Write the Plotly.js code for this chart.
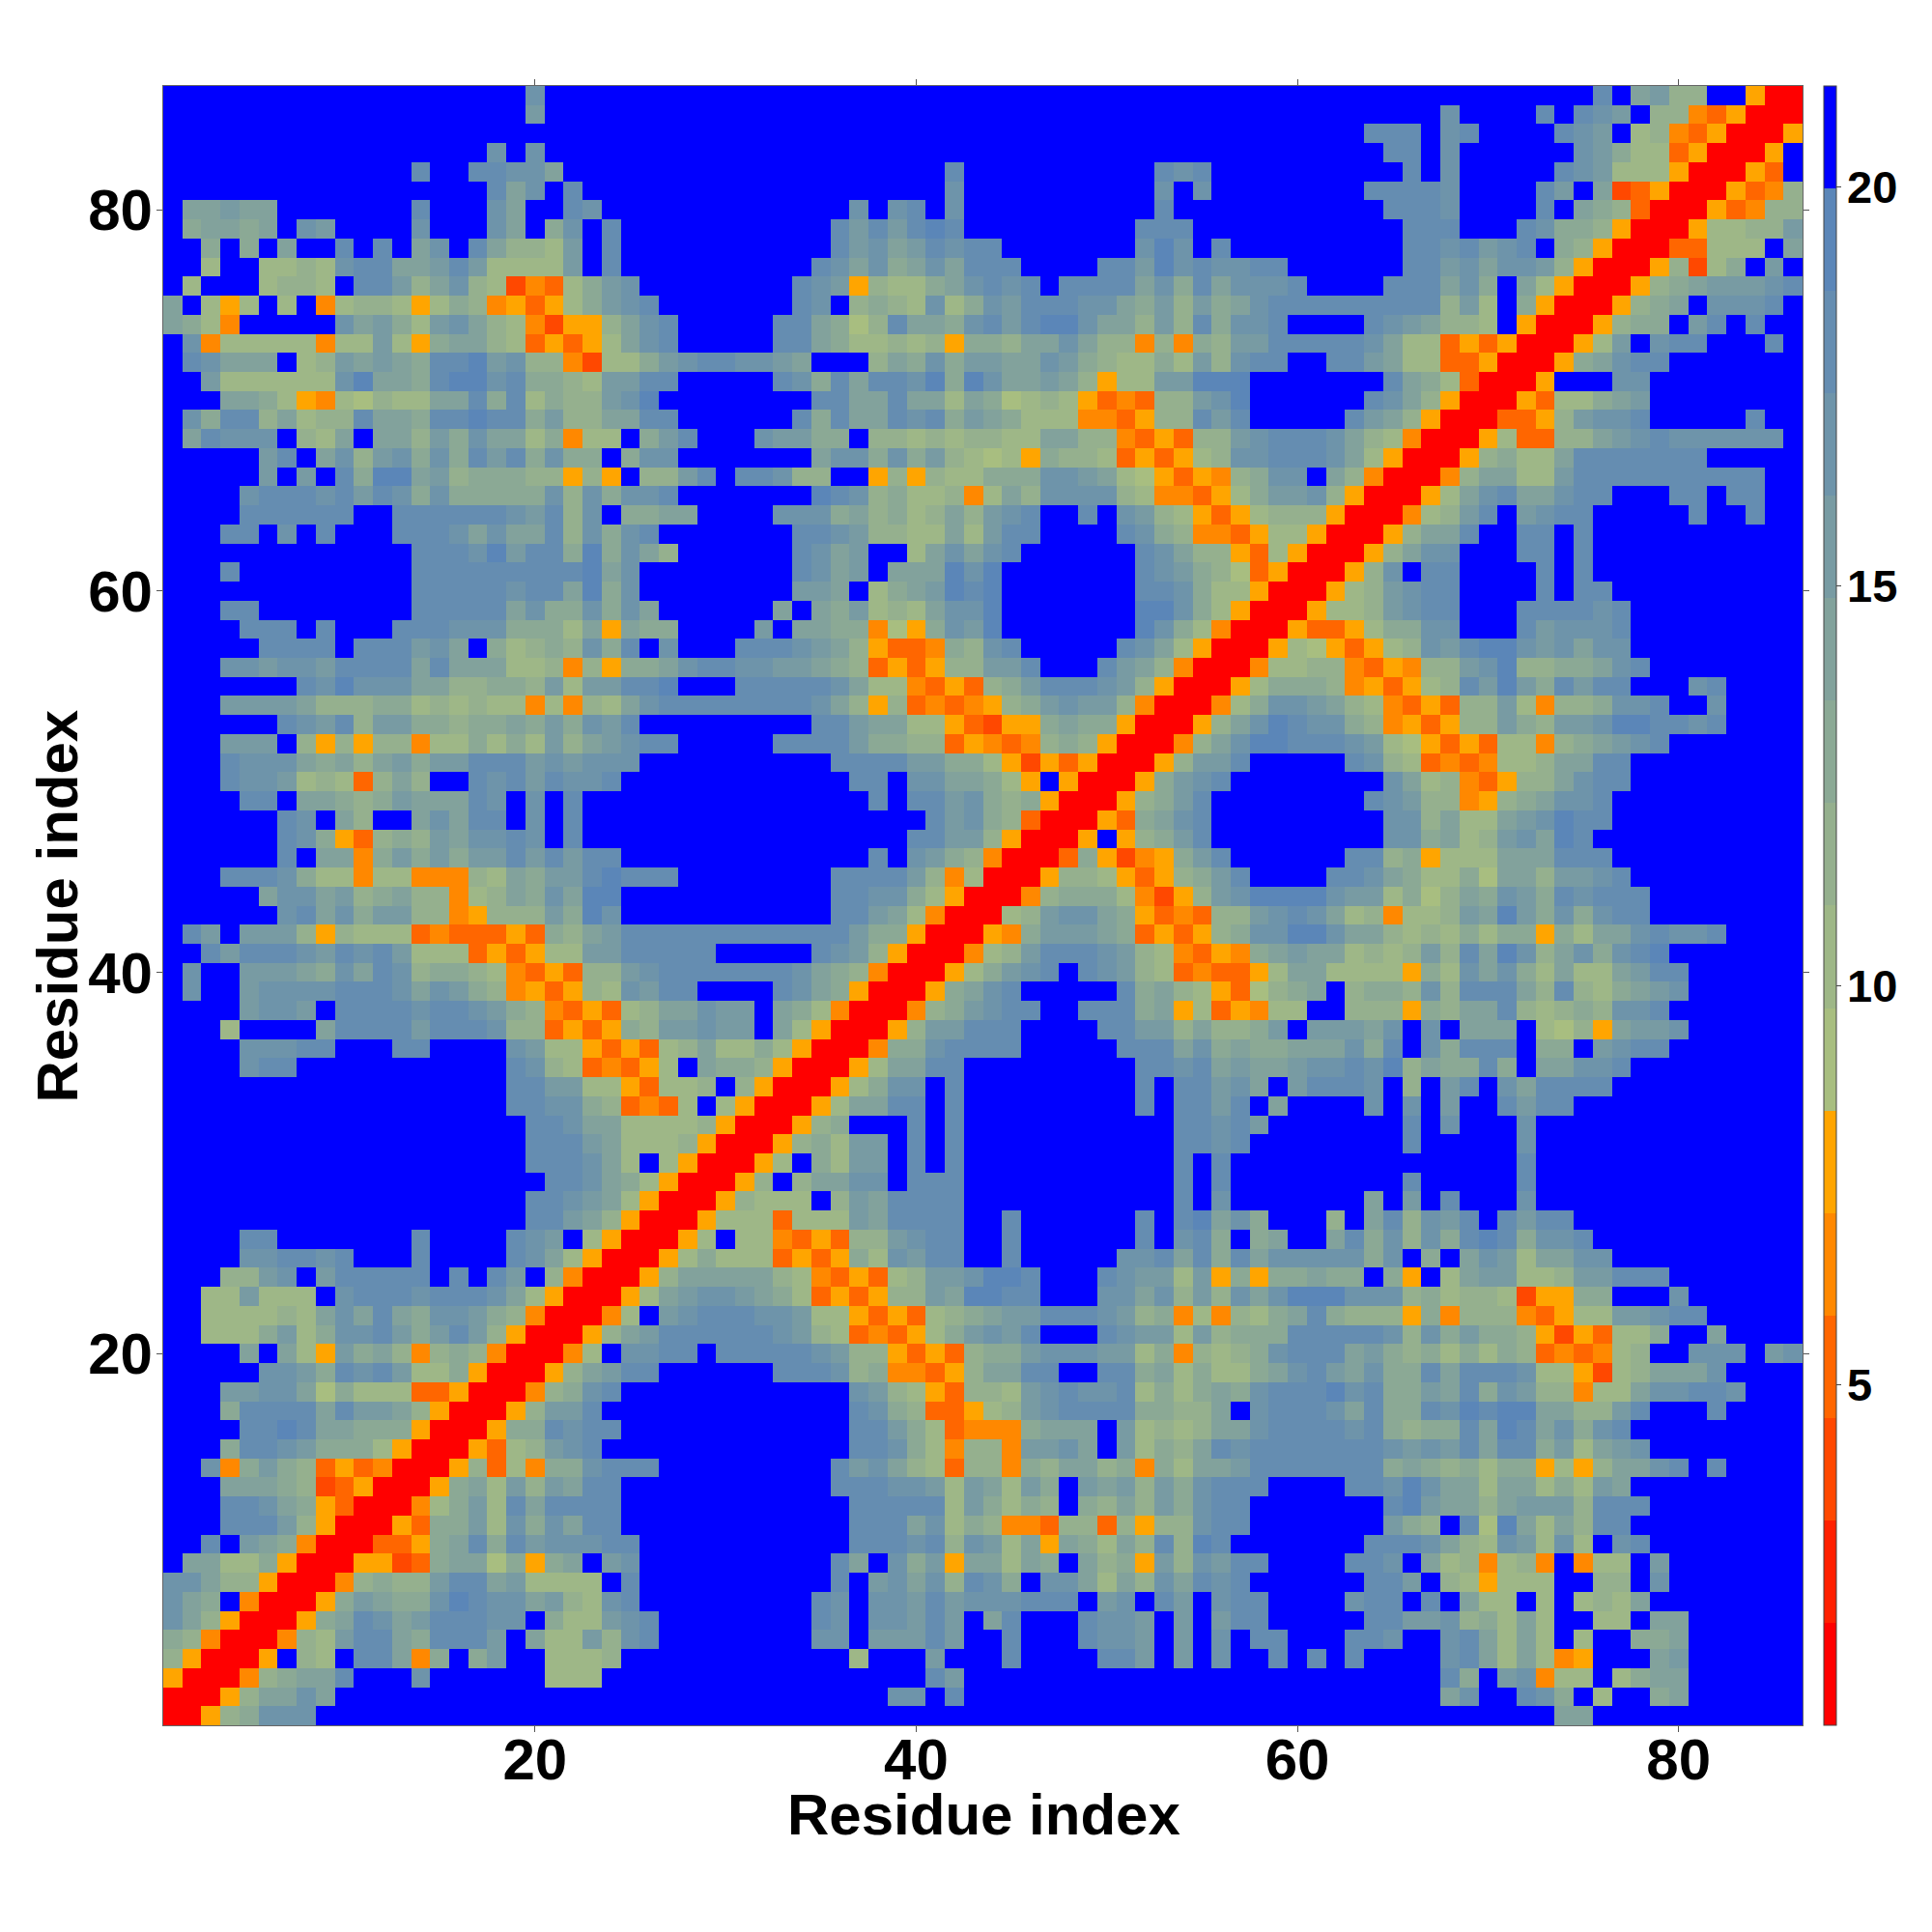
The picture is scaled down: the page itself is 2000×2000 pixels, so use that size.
<!DOCTYPE html>
<html>
<head>
<meta charset="utf-8">
<script src="https://cdn.plot.ly/plotly-3.0.1.min.js"></script>
<style>html,body{margin:0;padding:0;background:#fff}#chart{width:2000px;height:2000px}</style>
</head>
<body>
<div id="chart"></div>
<script>
// Colour bands, low distance to high distance
const levelColors = ["#ff0000","#ff2000","#ff4800","#ff6600","#ff8800","#ffa500",
  "#a8be80","#9eb787","#95b08e","#8ba995","#82a29c","#789ba3","#6e94aa","#658db1","#5b86b8","#0000ff"];
const levelCodes = "123456789abcdef.";
const zMin = 0.74, zMax = 21.26;
const tickValues = [20,40,60,80];
const barTicks = [5,10,15,20];
const residueCount = 86;
const axisTitle = "Residue index";
// Symmetric contact map: one string per residue y (86 first), holding x = 1..y, in groups of ten
const mapRows = [
".......... .........d .......... .......... .......... .......... .......... .....e.bc9 9..611",
".......... .........c .......... .......... .......... .......... .......d.. ..e.edc.99 54611",
".......... .......... .......... .......... .......... .......... ...eee.de. ...edc.895 4611",
".......... .......d.d .......... .......... .......... .......... ....ee.d.. ....dca884 611",
".......... ...e..eedd b......... .......... .e........ ..ede..... .....e.d.. ...edc8886 11",
".......... .......ebd .e........ .......... .d........ ..d.d..... ...eeeed.. ..ec.b3461 1",
".bbcbb.... ...e...db. .ed....... ......d.de .d........ ..e....... ....eeed.. ..e.ba9411",
".abbab.dc. ...d...db. ad.e...... .....ecece fe........ .eee...... .....eee.. .edaa9611",
"..a.a.b..e .e.bd.eb99 8c.e...... .....ecdbc edee...... .dfd.e.... .....eedec de.a9611",
"..8..8898d eebbcec888 8c.e...... ....edbdab dbeee....e ecfdeddee. .....eecdb ddc9611",
".8...8998. eec9bd9835 48acd..... ...edc6988 abdede.eee ebdaebddde ....eeebda .b8611",
"b.868.8.58 99868a9564 68acde.... ...ed.9a98 d8adceeedd bac9cabdee eeeeeee9c8 .a611",
"ba85.....d bca8cdb985 3669bde... ..eeba79eb badeceffdb b9c9eadde. ...edcb998 .611",
".d58888858 8c86abb984 6468bde... ..eeba8898 96aa9bbdb9 9595a9ccee eeedb88464 611",
".edbbb.89c bcbaeefcd9 95388acdee ddcb...9ba daccbbdca9 88a8c9dee. .eecb88446 11",
"..c888888d fbbaeffdea a98ccee... ..edaebeed fafdbbcb96 88ccfff... ....eba841 1",
"...bba8658 7988bbeae8 a99cdf.... ....eebbeb b8ba789864 5499cdf... ...edb9611",
".daee9b899 ebbaeefeea c99bbee... ...eaebbed eacba88855 4699ece... ..ecb9611",
".beddd.98b .bb9cadbb8 a588.ace.. .dccaa.998 989988bb99 546499cdee edb98511",
".....ce.bd 9cdadaecea daa.add... ....bddada c98786a998 464689ddee edb8611",
".....c.c.e affbc9aaa9 9696.99ce. eed99..696 988aaaddcb 8764659add .b9511",
"....deeede cedadaaaaa d9dadde... ....fed9a8 8958b9dddd 9855468acc d9611",
"....eeeeee ..eeeeeedc e9d.aabb.. ..dddab9a8 9b9cde..e. dc98646899 9611",
"...ee.d.e. ..eeedbdbb e9dade.... ...eedc998 8b8cee.... eda9554688 611",
".......... ...eeedfce eafadb9... ...edbc..8 bdbde..... .edb996486 11",
"...e...... ...eeeeeee eefbd..... ...edbc.bb bfdf...... .edca97461 1",
".......... ...eeeeede ebfad..... ...ccb.8ab cfef...... .eeda88611",
"...ee..... ...eeeeebd aadadb.... ..b.bac898 bddf...... .ffda8611",
"....eee.e. ..eeedddaa a8b6baa... .c.bbaa576 adcf...... .fda8511",
".....eeee. eeecdb.a89 a9dae.d... eeedcb9644 5a9de..... edb8611",
"...ddcddce eeebebbb88 9596aabdee ddccba9464 699cce...e cb9511",
".......edf dddbb99aa9 c8cceef... eeeeedb885 4649aceeed c9611",
"...ccccb99 9aa8989885 8598bdeeee eeeedb9694 54569acdcc 9511",
"......edce 9ccaa9aaba cadce..... ....eecbb8 864366abaa 611",
"...ccc.969 699588a8a8 c9bcdee... ..eeeecaa9 9465459a96 11",
"...edddbab 9bcacceeec dcddd..... .....eeeec caa8636461 1",
"...eddc898 49b9..edec edde...... ......ee.d dbba86.611",
"....ee.bba 9acbbbed.d .e........ .......e.e ecda9a611",
"......ed.b 9..bdbee.d .e........ .......... ecda9411",
"......eda6 49a9cbdded .e........ .........e ecc9611",
"......e.bb 5acacaccec ecee...... .......e.d ca9511",
"...eeeda88 58855598ba ccefeee... .....eeeec 95811",
".....bddbc 9ab99589ba dbff...... .....eedda 8611",
"......debd acc9956999 cafd...... .....eecb8 511",
".ec.ccc969 8884544464 a9bceeeeee eeeeeecaa6 11",
"..eceeedce dec8884646 88cceeeee. ....edc961 1",
".d..cccbad bed9aa9854 6499cdeeee eeedba9511",
".d..cdddde eedbdca956 4698dcee.. ..edba611",
"....cddc.e eeedeedca9 546489bbdc c.ba8511",
"...8....be eeeceeed99 4646a9ccdc c.b8611",
"....dddee. ..ee....dc 88646489b8 8a8611",
"....dee... ........ed 9845468.ba a9611",
".......... ........ee cc8864889. 9611",
".......... ........ee dda94548.8 611",
".......... .........e edbb888896 11",
".......... .........e eecb888961 1",
".......... .........e eedb8.8611",
".......... .......... eedba8611",
".......... .........e edcb8611",
".......... .........e ecb9611",
"....ee.... ...e....ed c.8611",
"....ddeede ...e....ed b8611",
"...99cd.ce eeee.e.ec. 9511",
"..88c888.d eeedeeedb8 611",
"..888898bd bebaddca95 11",
"..888ac8ad decacec961 1",
"....b.b86c ab959a9511",
".....ddcae dec88a611",
"...ccddb7a 88844611",
"...aeeeebe ccb9611",
"....eefebb aaa611",
"...aeedcaa a8611",
"..d5aca946 4511",
"...bbba934 611",
"...eedba64 11",
"...eeec961 1",
"..e.cba511",
".bb88a611",
"ddb99611",
"dba.511",
"db9611",
"a9511",
"9611",
"611",
"11",
"1"
];

const bandWidth = (zMax - zMin) / levelColors.length;
const axisValues = Array.from({length: residueCount}, (_, i) => i + 1);
const zValues = axisValues.map(() => axisValues.map(() => zMax - bandWidth / 2));
mapRows.forEach((row, r) => {
  const y = residueCount - r;
  const cells = row.replace(/ /g, "");
  for (let i = 0; i < cells.length && i < y; i++) {
    const level = levelCodes.indexOf(cells[i]);
    const value = zMin + (level + 0.5) * bandWidth;
    zValues[y - 1][i] = value;
    zValues[i][y - 1] = value;
  }
});
const colorscale = [];
levelColors.forEach((c, i) => {
  colorscale.push([i / levelColors.length, c]);
  colorscale.push([(i + 1) / levelColors.length, c]);
});

const fontFamily = '"Liberation Sans", Arial, sans-serif';
const plotW = 1698, plotH = 1697.3, plotL = 168.8, plotB = 1786.5, barL = 1889, labelL = 1912;
const axisBase = {
  range: [0.5, 86.5], tickmode: "array", tickvals: tickValues, ticktext: tickValues.map(String),
  ticks: "outside", ticklen: 6, tickwidth: 1, tickcolor: "#555", showline: true, linecolor: "#666", linewidth: 1,
  mirror: "ticks", showgrid: false, zeroline: false,
  tickfont: {family: fontFamily, size: 60, color: "#000", weight: 700}
};
const barLabels = barTicks.map(v => ({
  xref: "paper", yref: "paper", x: (labelL - plotL) / plotW, y: (v - zMin) / (zMax - zMin),
  xanchor: "left", yanchor: "middle", showarrow: false, text: String(v), borderpad: 0,
  font: {family: fontFamily, size: 47, color: "#000", weight: 700}
}));
const titleFont = {family: fontFamily, size: 60, color: "#000", weight: 700};
const titleLabels = [
  {xref: "paper", yref: "paper", x: 0.5006, y: (plotB - 1879) / plotH, xanchor: "center", yanchor: "middle",
   showarrow: false, text: axisTitle, borderpad: 0, font: titleFont},
  {xref: "paper", yref: "paper", x: (59 - plotL) / plotW, y: 0.4995, xanchor: "center", yanchor: "middle",
   textangle: -90, showarrow: false, text: axisTitle, borderpad: 0, font: titleFont}
];
Plotly.newPlot("chart", [{
  type: "heatmap", x: axisValues, y: axisValues, z: zValues, zmin: zMin, zmax: zMax,
  colorscale: colorscale, zsmooth: false, hoverongaps: false,
  colorbar: {
    x: (barL - plotL) / plotW, xanchor: "left", xpad: 0, y: 0, yanchor: "bottom", ypad: 0, len: 1, lenmode: "fraction",
    thickness: 12.7, thicknessmode: "pixels", outlinewidth: 1, outlinecolor: "#444", bordercolor: "rgba(0,0,0,0)",
    tickmode: "array", tickvals: barTicks, showticklabels: false, ticks: "outside", ticklen: 5, tickwidth: 1, tickcolor: "#444"
  }
}], {
  width: 2000, height: 2000, paper_bgcolor: "#fff", plot_bgcolor: "#fff", showlegend: false,
  margin: {l: 168.8, r: 133.5, t: 89.2, b: 213.5, pad: 0},
  annotations: barLabels.concat(titleLabels),
  xaxis: Object.assign({}, axisBase, {ticklabelstandoff: -23}),
  yaxis: Object.assign({}, axisBase, {ticklabelstandoff: -8})
}, {displayModeBar: false, staticPlot: true});
</script>
</body>
</html>
